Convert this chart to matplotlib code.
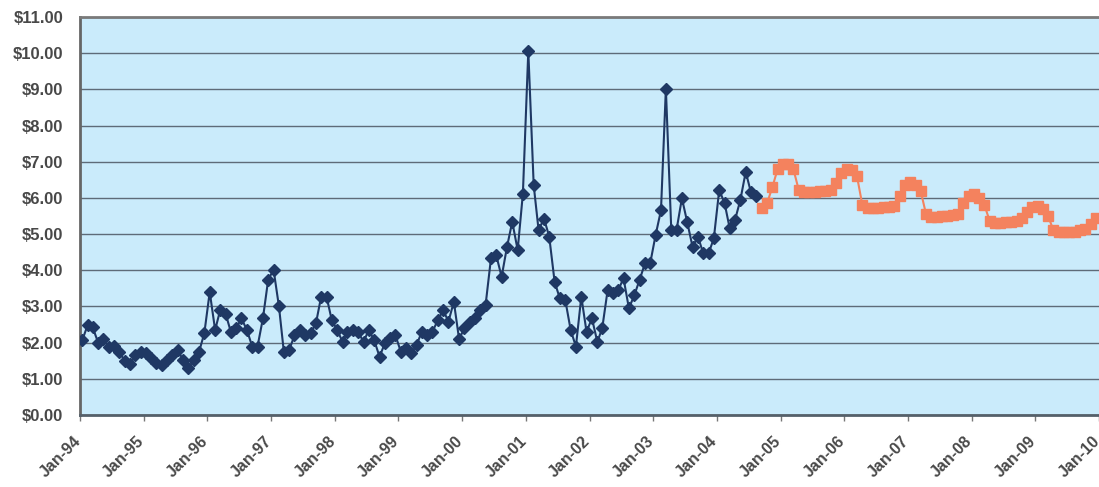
import matplotlib
matplotlib.use("Agg")
import matplotlib.pyplot as plt
import matplotlib.dates as mdates
import matplotlib.transforms as mtransforms
from matplotlib.ticker import FuncFormatter, MultipleLocator
import pandas as pd

# Monthly historical prices, Jan-1994 onward ($/unit)
historical = [
    2.08, 2.50, 2.42, 2.00, 2.10, 1.88, 1.92, 1.75, 1.48, 1.40, 1.66, 1.75,   # 1994
    1.70, 1.57, 1.45, 1.38, 1.52, 1.66, 1.80, 1.52, 1.30, 1.52, 1.75, 2.26,   # 1995
    3.40, 2.35, 2.90, 2.80, 2.30, 2.40, 2.67, 2.35, 1.89, 1.89, 2.67, 3.73,   # 1996
    4.02, 3.00, 1.75, 1.80, 2.20, 2.35, 2.20, 2.26, 2.53, 3.27, 3.27, 2.62,   # 1997
    2.35, 2.02, 2.30, 2.35, 2.30, 2.02, 2.35, 2.07, 1.61, 1.98, 2.12, 2.20,   # 1998
    1.75, 1.84, 1.70, 1.93, 2.30, 2.20, 2.30, 2.62, 2.90, 2.58, 3.13, 2.10,   # 1999
    2.40, 2.58, 2.67, 2.90, 3.04, 4.33, 4.42, 3.82, 4.65, 5.34, 4.56, 6.12,   # 2000
    10.06, 6.35, 5.11, 5.43, 4.93, 3.68, 3.22, 3.18, 2.35, 1.89, 3.27, 2.30,  # 2001
    2.67, 2.02, 2.40, 3.45, 3.36, 3.45, 3.78, 2.95, 3.31, 3.73, 4.19, 4.19,   # 2002
    4.97, 5.66, 9.02, 5.11, 5.11, 5.99, 5.34, 4.65, 4.93, 4.47, 4.47, 4.88,   # 2003
    6.22, 5.85, 5.16, 5.40, 5.94, 6.72, 6.15, 6.05,                           # 2004
]
historical_start = "1994-01-01"

# Monthly forward (futures strip) prices, Sep-2004 onward
forward = [
    5.72, 5.85, 6.30, 6.80,                                                   # 2004
    6.95, 6.95, 6.80, 6.22, 6.15, 6.15, 6.17, 6.18, 6.20, 6.22, 6.42, 6.70,   # 2005
    6.80, 6.78, 6.60, 5.80, 5.72, 5.72, 5.73, 5.74, 5.75, 5.78, 6.05, 6.35,   # 2006
    6.45, 6.35, 6.20, 5.55, 5.48, 5.48, 5.50, 5.50, 5.52, 5.55, 5.85, 6.05,   # 2007
    6.10, 6.00, 5.80, 5.35, 5.32, 5.32, 5.33, 5.33, 5.35, 5.45, 5.62, 5.75,   # 2008
    5.78, 5.70, 5.50, 5.10, 5.05, 5.05, 5.06, 5.07, 5.10, 5.15, 5.28, 5.45,   # 2009
]
forward_start = "2004-09-01"

y_max = 11.0
x_start, x_end = "1994-01-01", "2010-01-01"

# Each monthly value is plotted at the middle of its month
hist_dates = pd.date_range(historical_start, periods=len(historical), freq="MS") + pd.Timedelta(days=14)
fwd_dates = pd.date_range(forward_start, periods=len(forward), freq="MS") + pd.Timedelta(days=14)

plt.rcParams["font.family"] = ["Liberation Sans", "DejaVu Sans"]

fig = plt.figure(figsize=(10.99, 4.87), dpi=100)
fig.patch.set_facecolor("white")
ax = fig.add_axes([80 / 1099, 72 / 487, 1019 / 1099, 398 / 487])
ax.set_facecolor("#CAEBFB")

ax.plot(hist_dates, historical, color="#1F3864", lw=1.5, marker="D",
        markersize=6, markerfacecolor="#1F3864", markeredgecolor="#1F3864", zorder=3)
ax.plot(fwd_dates, forward, color="#F4825E", lw=1.5, marker="s",
        markersize=7, markerfacecolor="#F4825E", markeredgecolor="#F4825E", zorder=3)

ax.set_ylim(0, y_max)
ax.yaxis.set_major_locator(MultipleLocator(1))
ax.yaxis.set_major_formatter(FuncFormatter(lambda v, p: f"${v:.2f}"))
ax.set_xlim(pd.Timestamp(x_start), pd.Timestamp(x_end))
ax.xaxis.set_major_locator(mdates.YearLocator())
ax.xaxis.set_major_formatter(mdates.DateFormatter("%b-%y"))

ax.grid(axis="y", color="#5E6B78", lw=1.0, zorder=1)
ax.grid(axis="x", visible=False)

ax.tick_params(axis="x", direction="out", length=4, width=1, color="#777777",
               labelsize=11.5, labelcolor="#484848", pad=9)
ax.tick_params(axis="y", length=0, labelsize=12, labelcolor="#484848", pad=12)

shift = mtransforms.ScaledTranslation(-7 / 100, 0, fig.dpi_scale_trans)
for lbl in ax.get_xticklabels():
    lbl.set_rotation(45)
    lbl.set_ha("right")
    lbl.set_va("top")
    lbl.set_rotation_mode("anchor")
    lbl.set_transform(lbl.get_transform() + shift)
for lbl in ax.get_xticklabels() + ax.get_yticklabels():
    lbl.set_fontweight("bold")

ax.spines["top"].set_color("#7A7A7A")
ax.spines["top"].set_linewidth(2)
ax.spines["left"].set_color("#666666")
ax.spines["left"].set_linewidth(2)
ax.spines["bottom"].set_color("#55606A")
ax.spines["bottom"].set_linewidth(2)
ax.spines["right"].set_visible(False)

fig.savefig("out.png", dpi=100)
